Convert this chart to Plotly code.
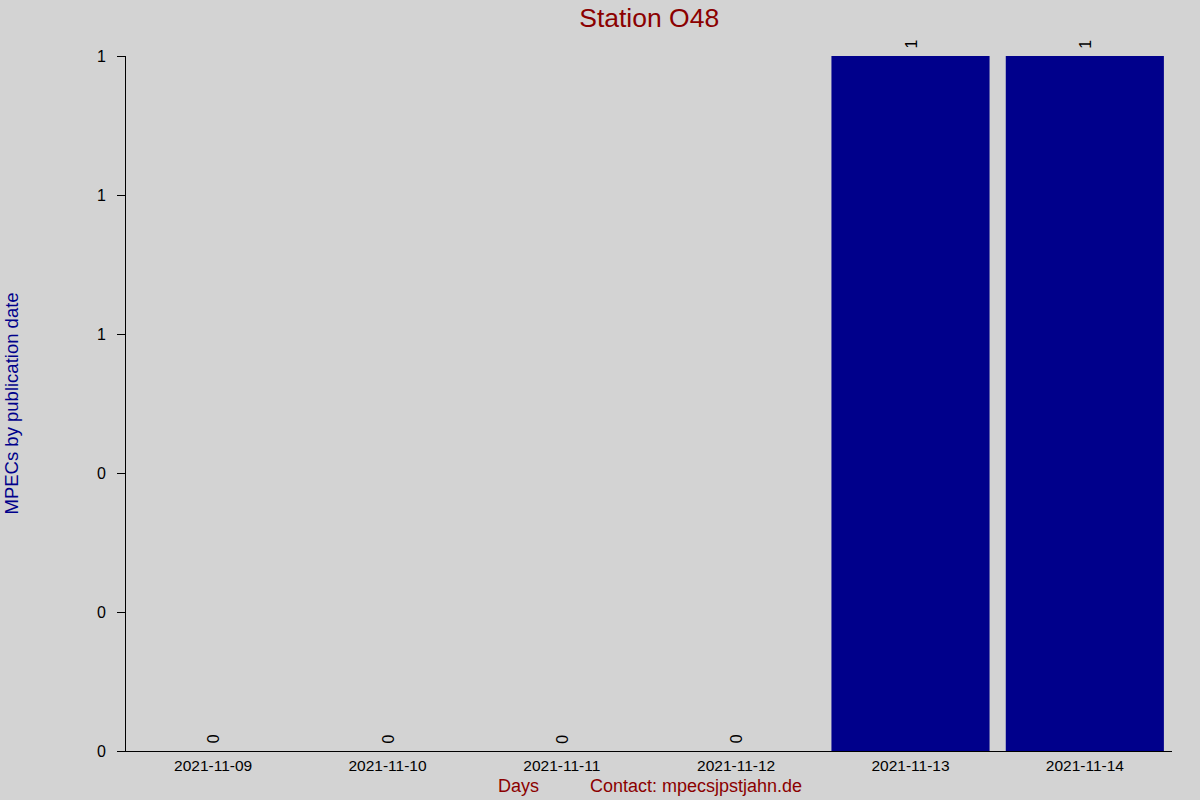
import plotly.graph_objects as go

# MPEC counts per publication day
days = ["2021-11-09", "2021-11-10", "2021-11-11", "2021-11-12", "2021-11-13", "2021-11-14"]
counts = [0, 0, 0, 0, 1, 1]

# y ticks as printed on the original (integer formatting)
ytick_vals = [0, 0.2, 0.4, 0.6, 0.8, 1.0]
ytick_text = ["0", "0", "0", "1", "1", "1"]

FONT = "Liberation Sans, Arial"
W, H = 1200, 800
L, R, T, B = 126, 28, 56, 49

fig = go.Figure()

fig.add_trace(go.Bar(
    x=days,
    y=counts,
    marker=dict(color="#00008B", line=dict(width=0)),
    width=0.907,
    showlegend=False,
))

# rotated value labels above each bar
for d, c in zip(days, counts):
    fig.add_annotation(
        x=d, y=c, text=str(c), textangle=-90,
        showarrow=False, yshift=12,
        font=dict(family=FONT, size=16, color="black"),
    )

fig.update_layout(
    width=W, height=H,
    paper_bgcolor="#D3D3D3",
    plot_bgcolor="#D3D3D3",
    margin=dict(l=L, r=R, t=T, b=B),
    title=dict(
        text="Station O48", x=0.541, xanchor="center", y=0.978, yanchor="middle",
        font=dict(family=FONT, size=26.5, color="#8B0000"),
    ),
    font=dict(family=FONT, size=15.5, color="black"),
    xaxis=dict(
        type="category", range=[-0.5, 5.5],
        showline=True, linecolor="black", linewidth=1,
        showgrid=False, zeroline=False, ticks="",
        tickfont=dict(size=15.5),
    ),
    yaxis=dict(
        range=[0, 1],
        tickvals=ytick_vals, ticktext=ytick_text,
        showline=True, linecolor="black", linewidth=1,
        showgrid=False, zeroline=False,
        ticks="outside", ticklen=8, tickcolor="black",
        ticklabelstandoff=8,
        tickfont=dict(size=16),
    ),
)

pw, ph = W - L - R, H - T - B
fig.add_annotation(
    x=(518 - L) / pw, y=-(786 - 751) / ph,
    xref="paper", yref="paper", text="Days", showarrow=False,
    yanchor="middle", xanchor="center",
    font=dict(family=FONT, size=18, color="#8B0000"),
)
fig.add_annotation(
    x=(696 - L) / pw, y=-(786 - 751) / ph,
    xref="paper", yref="paper", text="Contact: mpecsjpstjahn.de", showarrow=False,
    yanchor="middle", xanchor="center",
    font=dict(family=FONT, size=18, color="#8B0000"),
)
fig.add_annotation(
    x=-(L - 11) / pw, y=0.5,
    xref="paper", yref="paper", text="MPECs by publication date", showarrow=False,
    textangle=-90, xanchor="center", yanchor="middle",
    font=dict(family=FONT, size=18.5, color="#00008B"),
)

fig.write_html("out.html", config={"displayModeBar": False},
               post_script="document.body.style.margin='0';")
